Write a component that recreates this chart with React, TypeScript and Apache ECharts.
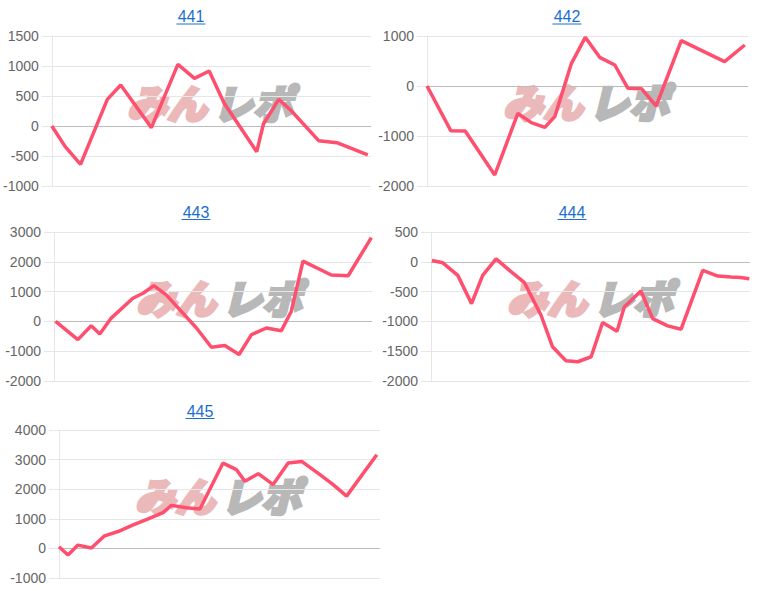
import React, { useEffect, useRef } from "react";
import * as echarts from "echarts";

const titles = ["441", "442", "443", "444", "445"];

const x441 = [0, 4.2, 9.0, 17.4, 21.6, 31.2, 39.5, 44.7, 49.3, 54.0, 64.2, 66.3, 71.1, 74.8, 83.6, 89.3, 99];
const y441 = [0, -344, -640, 444, 683, -28, 1028, 794, 917, 378, -428, 33, 444, 267, -244, -278, -483];

const x442 = [0, 7.4, 11.9, 21.1, 28.3, 32.5, 36.7, 39.8, 45, 49.3, 53.8, 58.5, 62.6, 66.8, 71.4, 79.2, 92.7, 99];
const y442 = [0, -893, -900, -1780, -547, -733, -827, -613, 453, 973, 573, 420, -47, -53, -400, 907, 487, 820];

const x443 = [0.5, 7.5, 11.7, 14.4, 18, 24.8, 28, 31.4, 35.3, 44.8, 49.5, 53.7, 58.2, 62.1, 66.8, 71.5, 74.6, 78.3, 87.2, 92.5, 99.8];
const y443 = [0, -611, -144, -422, 111, 778, 944, 1200, 889, -222, -867, -811, -1111, -444, -222, -311, 333, 2022, 1556, 1533, 2811];

const x444 = [0.3, 3.7, 8.4, 12.7, 16.2, 20.4, 24.6, 29.3, 34.5, 38.1, 42.3, 46, 50.2, 53.8, 58.3, 60.6, 65.8, 69.5, 74.2, 78.4, 85.2, 89.9, 94, 97, 99.8];
const y444 = [22, -17, -228, -702, -228, 50, -145, -351, -897, -1426, -1660, -1677, -1593, -1019, -1164, -758, -490, -953, -1075, -1131, -145, -240, -256, -262, -284];

const x445 = [0, 2.8, 5.9, 10.1, 14.2, 18.4, 23.1, 27.2, 32.4, 35, 39.7, 43.9, 51.1, 55.3, 57.9, 62.1, 66.7, 71.4, 75.6, 81.3, 85.4, 89.6, 99];
const y445 = [56, -223, 112, 11, 425, 570, 793, 972, 1207, 1453, 1374, 1330, 2883, 2659, 2268, 2525, 2156, 2883, 2939, 2492, 2156, 1765, 3162];

const yMins = [-1000, -2000, -2000, -2000, -1000];
const yMaxs = [1500, 1000, 3000, 500, 4000];
const yIntervals = [500, 1000, 1000, 500, 1000];

const xs = [x441, x442, x443, x444, x445];
const ys = [y441, y442, y443, y444, y445];

// layout
const grids = [
  { left: 50, top: 36, width: 321, height: 150 },
  { left: 427, top: 36, width: 321, height: 150 },
  { left: 54, top: 232, width: 318, height: 149 },
  { left: 431, top: 232, width: 319, height: 149 },
  { left: 59, top: 430, width: 321, height: 148 },
];
const titlePos = [
  [191, 16.5],
  [567, 16.5],
  [196, 212],
  [572, 212],
  [200, 411],
];
const markPos = [
  [210, 102],
  [586, 101],
  [219, 297],
  [590, 297],
  [218, 495],
];

const LINE = "#fe4f6e";
const GRID = "#e6e6e6";

export default function App() {
  const ref = useRef<HTMLDivElement>(null);
  useEffect(() => {
    if (!ref.current) return;
    const chart = echarts.init(ref.current, undefined, { renderer: "svg" });
    const graphic: any[] = [];
    titles.forEach((t, i) => {
      const [cx, cy] = titlePos[i];
      graphic.push({
        type: "text",
        x: cx,
        y: cy,
        style: {
          text: t,
          fill: "#1a6fcf",
          font: "16px 'Liberation Sans', Arial, sans-serif",
          textAlign: "center",
          textVerticalAlign: "middle",
        },
      });
      graphic.push({
        type: "line",
        shape: { x1: cx - 14.5, y1: cy + 7.5, x2: cx + 14.5, y2: cy + 7.5 },
        style: { stroke: "#1a6fcf", lineWidth: 1 },
      });
      const [mx, my] = markPos[i];
      graphic.push({
        type: "text",
        x: mx - 3,
        y: my,
        z: -1,
        style: {
          text: "みん",
          fill: "#ebb9ba",
          stroke: "#ebb9ba",
          lineWidth: 3,
          font: "italic 900 40px 'Noto Sans CJK JP', sans-serif",
          textAlign: "right",
          textVerticalAlign: "middle",
        },
      });
      graphic.push({
        type: "text",
        x: mx + 3,
        y: my,
        z: -1,
        style: {
          text: "レポ",
          fill: "#b8b8b8",
          stroke: "#b8b8b8",
          lineWidth: 3,
          font: "italic 900 40px 'Noto Sans CJK JP', sans-serif",
          textAlign: "left",
          textVerticalAlign: "middle",
        },
      });
    });

    const option: any = {
      animation: false,
      backgroundColor: "#ffffff",
      grid: grids.map((g) => ({ ...g, containLabel: false })),
      xAxis: grids.map((_, i) => ({
        type: "value",
        gridIndex: i,
        min: 0,
        max: 100,
        show: false,
      })),
      yAxis: grids.map((_, i) => ({
        type: "value",
        gridIndex: i,
        min: yMins[i],
        max: yMaxs[i],
        interval: yIntervals[i],
        axisLine: { show: true, lineStyle: { color: GRID, width: 1 } },
        axisTick: { show: true, length: 10, lineStyle: { color: GRID } },
        axisLabel: {
          margin: 13,
          color: "#666666",
          fontSize: 14,
          fontFamily: "'Liberation Sans', Arial, sans-serif",
          formatter: (v: number) => String(v),
        },
        splitLine: { show: true, lineStyle: { color: GRID, width: 1 } },
      })),
      series: xs.map((xv, i) => ({
        type: "line",
        xAxisIndex: i,
        yAxisIndex: i,
        data: xv.map((x, k) => [x, ys[i][k]]),
        showSymbol: false,
        symbol: "none",
        lineStyle: { color: LINE, width: 3.5 },
        z: 3,
        markLine: {
          silent: true,
          symbol: "none",
          label: { show: false },
          lineStyle: { color: "#bcbcbc", type: "solid", width: 1 },
          data: [{ yAxis: 0 }],
          z: 1,
        },
      })),
      graphic,
    };
    chart.setOption(option);
    return () => chart.dispose();
  }, []);
  return (
    <div
      ref={ref}
      style={{ position: "fixed", left: 0, top: 0, width: 757, height: 591, background: "#fff" }}
    />
  );
}
